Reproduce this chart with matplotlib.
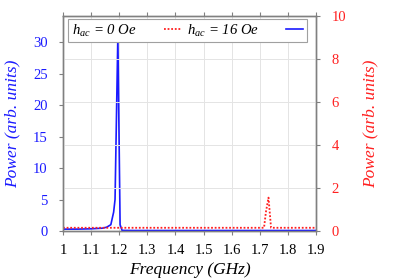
import matplotlib
matplotlib.use("Agg")
import matplotlib.pyplot as plt

plt.rcParams['font.family'] = ['Liberation Serif', 'DejaVu Serif']
plt.rcParams['mathtext.fontset'] = 'custom'
plt.rcParams['mathtext.it'] = 'Liberation Serif:italic'
plt.rcParams['mathtext.rm'] = 'Liberation Serif'

# data
freq_0 = [1.00, 1.05, 1.10, 1.14, 1.155, 1.17, 1.18, 1.185, 1.195, 1.203, 1.21, 1.25, 1.5, 1.9]
power_0 = [0.30, 0.30, 0.35, 0.45, 0.60, 1.0, 3.0, 5.0, 31.0, 1.0, 0.1, 0.08, 0.08, 0.08]
freq_16 = [1.00, 1.30, 1.60, 1.715, 1.722, 1.731, 1.74, 1.75, 1.90]
power_16 = [0.15, 0.15, 0.15, 0.15, 0.9, 1.55, 0.15, 0.15, 0.15]
xticks = [1, 1.1, 1.2, 1.3, 1.4, 1.5, 1.6, 1.7, 1.8, 1.9]
xlabels = ['1', '1.1', '1.2', '1.3', '1.4', '1.5', '1.6', '1.7', '1.8', '1.9']

blue = '#1a1aff'
red = '#ff2020'
gray = '#808080'

fig = plt.figure(figsize=(3.99, 2.79), dpi=100)
ax = fig.add_axes([0.158, 0.172, 0.634, 0.772])
ax2 = ax.twinx()

l1, = ax.plot(freq_0, power_0, color=blue, lw=1.2, zorder=3)
l2, = ax2.plot(freq_16, power_16, color=red, lw=1.3, ls=(0, (1, 1)))

ax.set_xlim(1, 1.9)
ax.set_ylim(0, 34.2)
ax2.set_ylim(0, 10)
ax.set_xticks(xticks)
ax.set_xticklabels(xlabels)
ax.set_yticks([0, 5, 10, 15, 20, 25, 30])
ax2.set_yticks([0, 2, 4, 6, 8, 10])

# grid: vertical at x ticks, horizontal at right-axis ticks
ax2.grid(axis='y', color='#e4e4e4', lw=0.7)
ax.grid(axis='x', color='#e4e4e4', lw=0.7)
ax.set_axisbelow(True)
ax2.set_axisbelow(True)

ax.tick_params(axis='x', direction='out', colors='black', labelsize=10.5, color=gray,
               top=True, pad=6, length=3)
ax.tick_params(axis='y', direction='out', labelcolor=blue, labelsize=10.5, color=gray,
               pad=8, length=3)
ax2.tick_params(axis='y', direction='out', labelcolor=red, labelsize=10.5, color=gray,
                pad=8, length=3)

for a in (ax, ax2):
    for s in a.spines.values():
        s.set_color(gray)
        s.set_linewidth(1.0)

ax.set_xlabel('Frequency (GHz)', style='italic', fontsize=12.5, labelpad=4)
ax.set_ylabel('Power (arb. units)', style='italic', fontsize=12.5, color=blue, labelpad=9)
ax2.set_ylabel('Power (arb. units)', style='italic', fontsize=12.5, color=red, labelpad=12)

leg = ax2.legend([l2, l1], [r'$h_{ac}$ = 0 Oe', r'$h_{ac}$ = 16 Oe'],
                 ncol=2, markerfirst=False, loc='upper left',
                 bbox_to_anchor=(0.02, 0.985), fancybox=False, framealpha=1,
                 edgecolor='#a0a0a0', prop={'style': 'italic', 'size': 10.6},
                 handlelength=1.15, columnspacing=0.4, handletextpad=1.85,
                 borderpad=0.25, borderaxespad=0)
leg.get_frame().set_linewidth(0.8)

fig.savefig('out.png', dpi=100)
